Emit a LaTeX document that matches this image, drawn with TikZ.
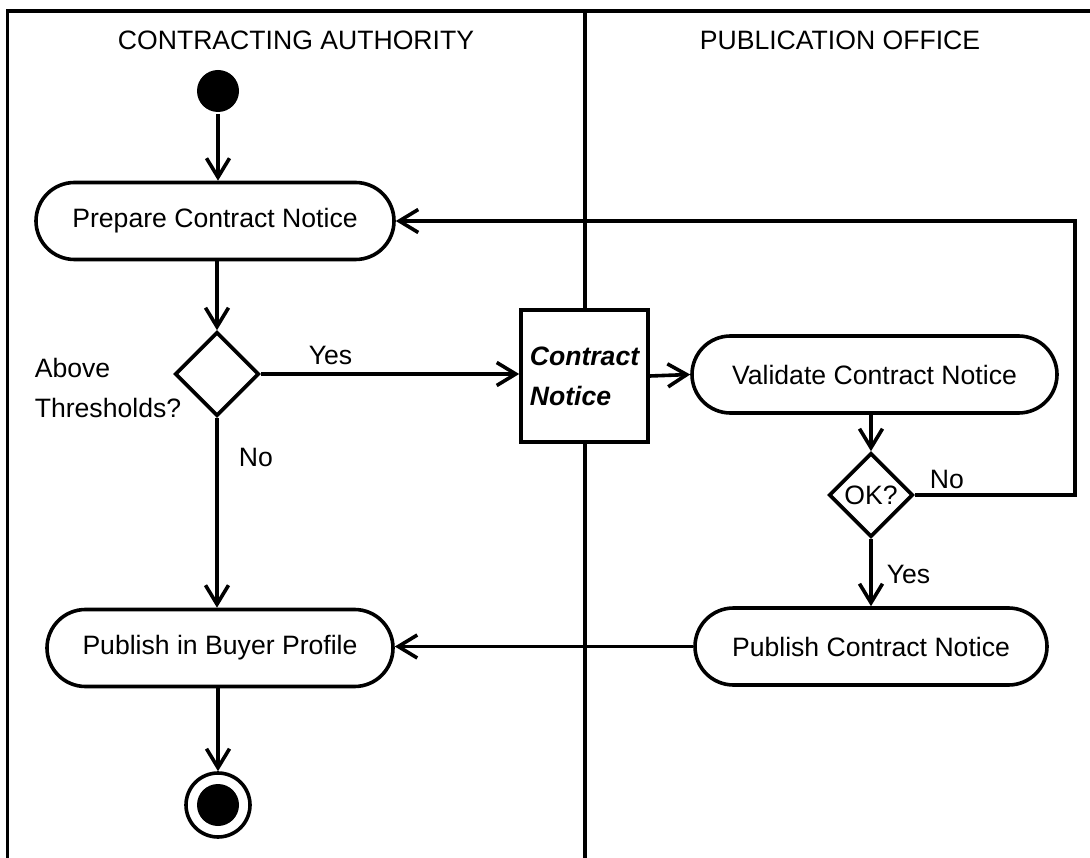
\documentclass[tikz,border=0pt]{standalone}
\usepackage{fontspec}
\setmainfont{Liberation Sans}
\usetikzlibrary{shapes.misc,shapes.geometric,arrows.meta}
\begin{document}
\begin{tikzpicture}[x=1pt,y=-1pt,line width=3.6pt,
  >={Straight Barb[length=19pt,width=23pt]},
  base/.style={font=\fontsize{26.6}{40}\selectfont, inner sep=0pt},
  act/.style={base, rounded rectangle, draw, fill=white, minimum height=77pt},
  obj/.style={base, rectangle, draw, fill=white, minimum width=127pt, minimum height=132pt, align=left},
  dec/.style={base, diamond, draw, fill=white, minimum size=84pt, aspect=1},
  lbl/.style={base, anchor=base west, align=left},
  title/.style={base},
  flow/.style={->},
  lane/.style={line width=3.6pt}]
\useasboundingbox (0,0) rectangle (1090,858);
% swimlanes
\coordinate (fbl) at (7.5,858);
\coordinate (ftl) at (7.5,11);
\coordinate (ftr) at (1090,11);
\coordinate (dtop) at (585,11);
\coordinate (dbot) at (585,858);
\draw[lane] (fbl) -- (ftl) -- (ftr);
\draw[lane] (dtop) -- (dbot);
\node[title] (t1) at (296,40) {CONTRACTING AUTHORITY};
\node[title] (t2) at (840,40) {PUBLICATION OFFICE};
% nodes
\node[circle, fill, minimum size=42pt, inner sep=0pt] (start) at (218,91) {};
\node[act, minimum width=358pt] (prep) at (215,221) {Prepare Contract Notice};
\node[dec] (dec1) at (217,374) {};
\node[obj] (cn) at (584.5,376) {\bfseries\itshape Contract\\\bfseries\itshape Notice};
\node[act, minimum width=365pt] (val) at (874.5,374.5) {Validate Contract Notice};
\node[dec] (ok) at (871,495) {OK?};
\node[act, minimum width=352pt] (pub) at (871,646.5) {Publish Contract Notice};
\node[act, minimum width=346pt] (buyer) at (220,648) {Publish in Buyer Profile};
\node[circle, draw, fill=white, minimum size=64pt, inner sep=0pt] (endo) at (218,805) {};
\node[circle, fill, minimum size=42pt, inner sep=0pt] (endi) at (218,805) {};
\coordinate (loop) at (1075,221);
% labels
\node[lbl] (above) at (33,418) {Above\\Thresholds?};
\node[lbl] (yes1) at (307,365) {Yes};
\node[lbl] (no1) at (237,467) {No};
\node[lbl] (no2) at (928,488) {No};
\node[lbl] (yes2) at (885,583) {Yes};
% flows
\draw[flow] (start) -- (start |- prep.north);
\draw[flow] (prep.south -| dec1) -- (dec1.north);
\draw[flow] (dec1.east) -- (dec1.east -| cn.west);
\draw[flow] (cn.east) -- (val.west);
\draw[flow] (val.south -| ok) -- (ok.north);
\draw[flow] (ok.south) -- (ok.south |- pub.north);
\draw[flow] (ok.east) -| (loop) -- (prep.east);
\draw[flow] (pub.west) -- (pub.west -| buyer.east);
\draw[flow] (dec1.south) -- (dec1.south |- buyer.north);
\draw[flow] (buyer.south -| endo) -- (endo.north);
\end{tikzpicture}
\end{document}
